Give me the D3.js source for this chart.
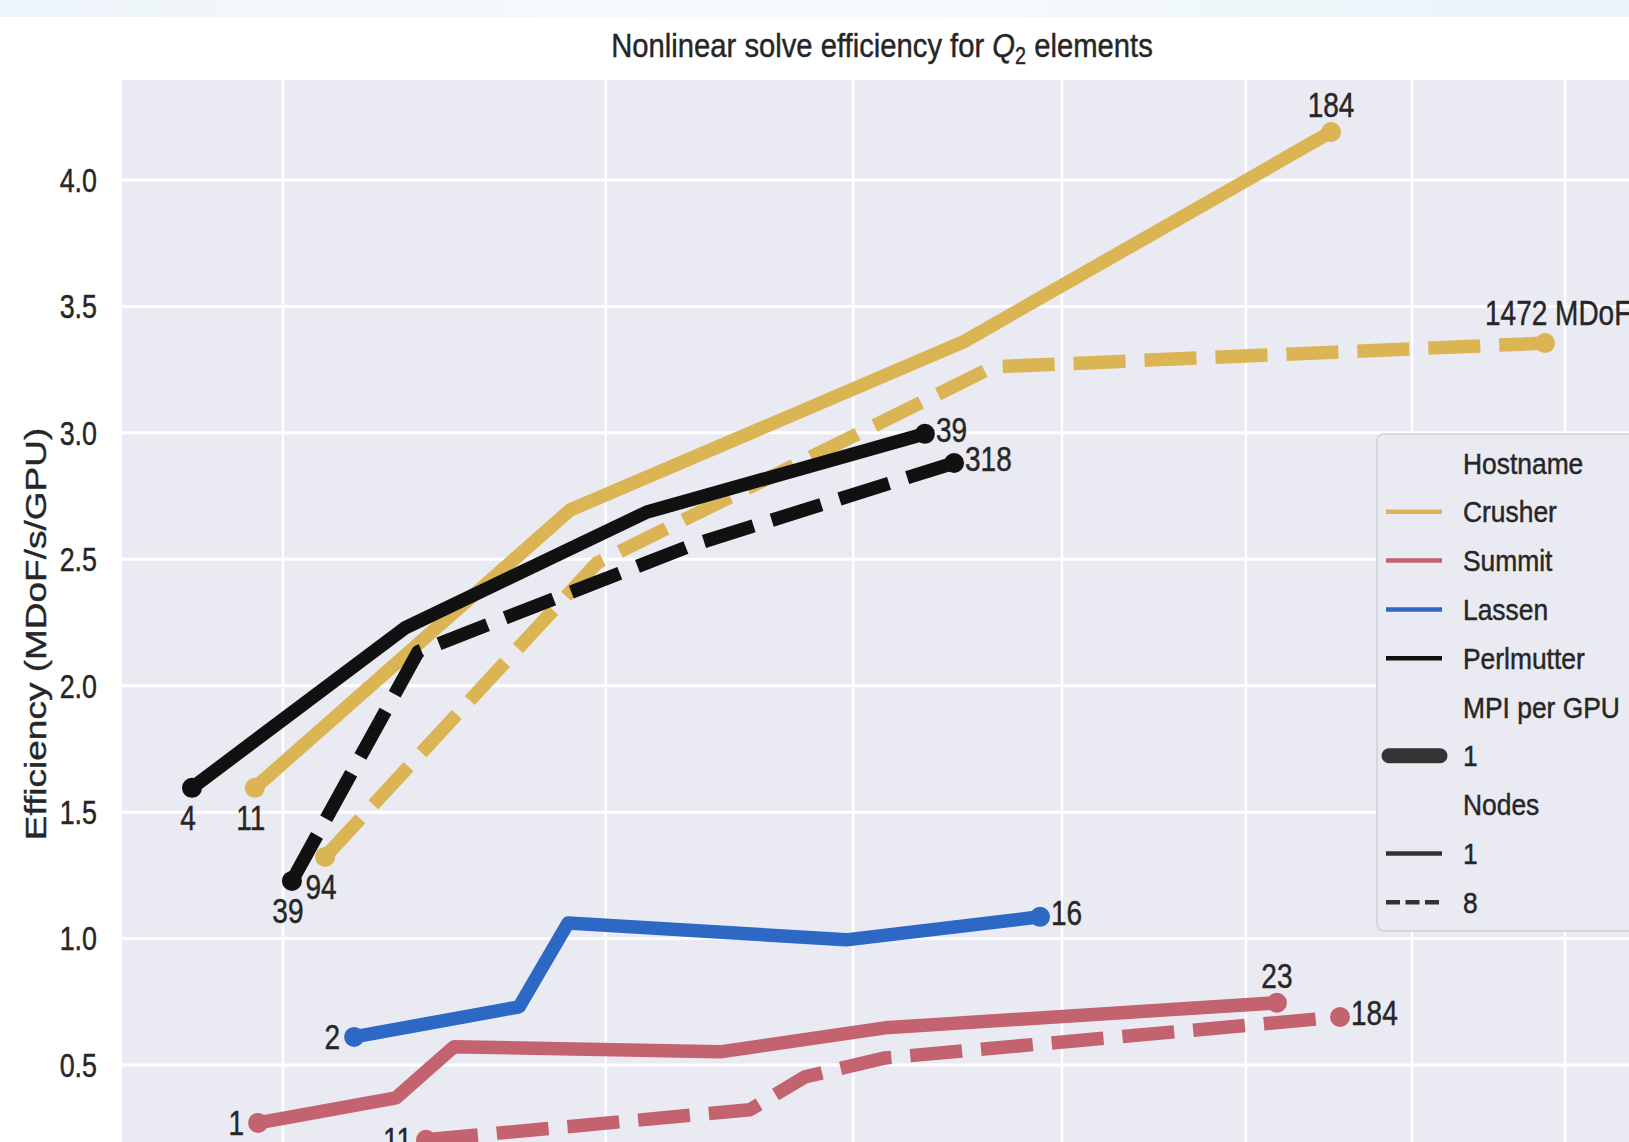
<!DOCTYPE html>
<html>
<head>
<meta charset="utf-8">
<script src="https://cdn.jsdelivr.net/npm/d3@7"></script>
<style>
  body { margin: 0; background: #fff; }
  text { font-family: "Liberation Sans", Arial, Helvetica, sans-serif; fill: #262626; stroke: #262626; stroke-width: 0.45px; }
</style>
</head>
<body>
<svg id="chart"></svg>
<script>

// ---- data ----
const hostnames = ['Crusher', 'Summit', 'Lassen', 'Perlmutter'];
const mpiPerGpu = ['1'];
const nodeCounts = ['1', '8'];

const xTicks = [1, 2, 3, 4, 5, 6, 7];
const yTicks = [0.5, 1.0, 1.5, 2.0, 2.5, 3.0, 3.5, 4.0];

// [x, efficiency]
const crusherN1 = [[0.929, 1.596], [1.873, 2.695], [3.508, 3.359], [5.501, 4.190]];
const crusherN8 = [[1.111, 1.323], [1.969, 2.486], [3.654, 3.261], [6.865, 3.355]];
const summitN1 = [[0.937, 0.271], [1.311, 0.370], [1.487, 0.572], [2.437, 0.552], [3.143, 0.647], [5.180, 0.746]];
const summitN8 = [[1.401, 0.204], [2.558, 0.323], [2.789, 0.453], [3.143, 0.528], [5.555, 0.690]];
const lassenN1 = [[1.191, 0.611], [1.698, 0.730], [1.866, 1.062], [2.968, 0.995], [3.888, 1.086]];
const perlmutterN1 = [[0.780, 1.596], [1.338, 2.229], [2.153, 2.687], [3.327, 2.996]];
const perlmutterN8 = [[1.023, 1.228], [1.377, 2.134], [2.318, 2.553], [3.465, 2.881]];

// problem size (MDoF) at first / last point
const crusherN1Labels = ['11', '184'];
const crusherN8Labels = ['94', '1472 MDoF'];
const summitN1Labels = ['1', '23'];
const summitN8Labels = ['11', '184'];
const lassenN1Labels = ['2', '16'];
const perlmutterN1Labels = ['4', '39'];
const perlmutterN8Labels = ['39', '318'];

// ---- style ----
const palette = { Crusher: '#dbb453', Summit: '#c2636f', Lassen: '#2d69c4', Perlmutter: '#111111' };
const SX = 0.79; // the picture is squeezed sideways

const series = [
  { host: 'Crusher', nodes: '1', pts: crusherN1, labels: crusherN1Labels, place: ['below', 'above'] },
  { host: 'Crusher', nodes: '8', pts: crusherN8, labels: crusherN8Labels, place: ['below', 'aboveLeft'] },
  { host: 'Summit', nodes: '1', pts: summitN1, labels: summitN1Labels, place: ['left', 'above'] },
  { host: 'Summit', nodes: '8', pts: summitN8, labels: summitN8Labels, place: ['left', 'right'] },
  { host: 'Lassen', nodes: '1', pts: lassenN1, labels: lassenN1Labels, place: ['left', 'right'] },
  { host: 'Perlmutter', nodes: '1', pts: perlmutterN1, labels: perlmutterN1Labels, place: ['below', 'right'] },
  { host: 'Perlmutter', nodes: '8', pts: perlmutterN8, labels: perlmutterN8Labels, place: ['below', 'right'] }
];

const W = 1629, H = 1142;
const plot = { left: 122, top: 80, right: 1642, bottom: 1260 };

const svg = d3.select('#chart').attr('width', W).attr('height', H);
const defs = svg.append('defs');

svg.append('rect').attr('width', W).attr('height', H).attr('fill', '#fff');

// thin light strip at the top of the screenshot
const grad = defs.append('linearGradient').attr('id', 'strip');
grad.append('stop').attr('offset', '0%').attr('stop-color', '#eef5fa');
grad.append('stop').attr('offset', '50%').attr('stop-color', '#f7fbfd');
grad.append('stop').attr('offset', '100%').attr('stop-color', '#e9f3f9');
svg.append('rect').attr('width', W).attr('height', 17).attr('fill', 'url(#strip)');

defs.append('clipPath').attr('id', 'clip')
  .append('rect')
  .attr('x', plot.left).attr('y', plot.top)
  .attr('width', plot.right - plot.left).attr('height', plot.bottom - plot.top);

const x = d3.scalePow().exponent(0.5).domain([1, 7]).range([283, 1565]);
const y = d3.scaleLinear().domain([0.5, 4]).range([1065, 180]);

function squeezed(parent, px, py, str, size, anchor, sx) {
  return parent.append('text')
    .attr('transform', 'translate(' + px + ',' + py + ') scale(' + (sx || SX) + ',1)')
    .attr('text-anchor', anchor)
    .attr('dy', '0.35em')
    .style('font-size', size + 'px')
    .text(str);
}

// axes background + grid
svg.append('rect')
  .attr('x', plot.left).attr('y', plot.top)
  .attr('width', plot.right - plot.left).attr('height', plot.bottom - plot.top)
  .attr('fill', '#eaeaf2');

const grid = svg.append('g').attr('clip-path', 'url(#clip)');
grid.selectAll('.vgrid')
  .data(xTicks)
  .join('line')
  .attr('class', 'vgrid')
  .attr('x1', d => x(d)).attr('x2', d => x(d))
  .attr('y1', plot.top).attr('y2', plot.bottom)
  .attr('stroke', '#fff').attr('stroke-width', 2.5);
grid.selectAll('.hgrid')
  .data(yTicks)
  .join('line')
  .attr('class', 'hgrid')
  .attr('x1', plot.left).attr('x2', plot.right)
  .attr('y1', d => y(d)).attr('y2', d => y(d))
  .attr('stroke', '#fff').attr('stroke-width', 3);

// y tick labels
const yAxis = svg.append('g');
yTicks.forEach(t => squeezed(yAxis, 97, y(t), d3.format('.1f')(t), 34, 'end'));

// y axis title
svg.append('text')
  .attr('transform', 'translate(36,634) scale(' + SX + ',1) rotate(-90)')
  .attr('text-anchor', 'middle')
  .attr('dy', '0.35em')
  .style('font-size', '37px')
  .text('Efficiency (MDoF/s/GPU)');

// title
const title = svg.append('text')
  .attr('transform', 'translate(882,57) scale(0.86,1)')
  .attr('text-anchor', 'middle')
  .style('font-size', '34px');
title.append('tspan').text('Nonlinear solve efficiency for ');
title.append('tspan').style('font-style', 'italic').text('Q');
title.append('tspan').attr('dy', 7).style('font-size', '23px').text('2');
title.append('tspan').attr('dy', -7).text(' elements');

// lines
const line = d3.line().x(d => x(d[0])).y(d => y(d[1]));
const lines = svg.append('g').attr('clip-path', 'url(#clip)');

lines.selectAll('.series')
  .data(series)
  .join('g')
  .attr('class', 'series')
  .call(sel => {
    sel.append('path')
      .attr('d', d => line(d.pts))
      .attr('fill', 'none')
      .attr('stroke', d => palette[d.host])
      .attr('stroke-width', 13.5)
      .attr('stroke-linejoin', 'round')
      .attr('stroke-dasharray', d => d.nodes === '8' ? '52,19' : null);

    sel.selectAll('.end')
      .data(d => [d.pts[0], d.pts[d.pts.length - 1]].map(p => ({ p, host: d.host })))
      .join('circle')
      .attr('class', 'end')
      .attr('cx', d => x(d.p[0]))
      .attr('cy', d => y(d.p[1]))
      .attr('r', 10)
      .attr('fill', d => palette[d.host]);
  });

// end-point annotations
const offsets = {
  below: { dx: -4, dy: 30, anchor: 'middle' },
  above: { dx: 0, dy: -27, anchor: 'middle' },
  aboveLeft: { dx: -60, dy: -30, anchor: 'start' },
  right: { dx: 11, dy: -4, anchor: 'start' },
  left: { dx: -14, dy: 0, anchor: 'end' }
};
const notes = svg.append('g');
series.forEach(s => {
  [0, s.pts.length - 1].forEach((idx, k) => {
    const o = offsets[s.place[k]];
    squeezed(notes, x(s.pts[idx][0]) + o.dx, y(s.pts[idx][1]) + o.dy, s.labels[k], 35, o.anchor, 0.8);
  });
});

// legend
const legendTop = 434, rowStep = 48.8;
const legend = svg.append('g');
legend.append('rect')
  .attr('x', 1377).attr('y', legendTop)
  .attr('width', 300).attr('height', 497)
  .attr('rx', 7)
  .attr('fill', '#eaeaf2')
  .attr('stroke', '#cfcfd8')
  .attr('stroke-width', 1.5);

const legendRows = [{ kind: 'title', text: 'Hostname' }]
  .concat(hostnames.map(h => ({ kind: 'host', text: h })))
  .concat([{ kind: 'title', text: 'MPI per GPU' }])
  .concat(mpiPerGpu.map(m => ({ kind: 'mpi', text: m })))
  .concat([{ kind: 'title', text: 'Nodes' }])
  .concat(nodeCounts.map(n => ({ kind: 'nodes', text: n })));

legendRows.forEach((r, i) => {
  const ry = legendTop + 29 + i * rowStep;
  if (r.kind === 'host') {
    legend.append('line').attr('x1', 1386).attr('x2', 1442).attr('y1', ry).attr('y2', ry)
      .attr('stroke', palette[r.text]).attr('stroke-width', 4.5);
  } else if (r.kind === 'mpi') {
    legend.append('line').attr('x1', 1389).attr('x2', 1440).attr('y1', ry).attr('y2', ry)
      .attr('stroke', '#333').attr('stroke-width', 15).attr('stroke-linecap', 'round');
  } else if (r.kind === 'nodes') {
    legend.append('line').attr('x1', 1386).attr('x2', 1442).attr('y1', ry).attr('y2', ry)
      .attr('stroke', '#333').attr('stroke-width', 4.5)
      .attr('stroke-dasharray', r.text === '8' ? '14,5.5' : null);
  }
  squeezed(legend, 1463, ry, r.text, 30, 'start', 0.88);
});

</script>
</body>
</html>
